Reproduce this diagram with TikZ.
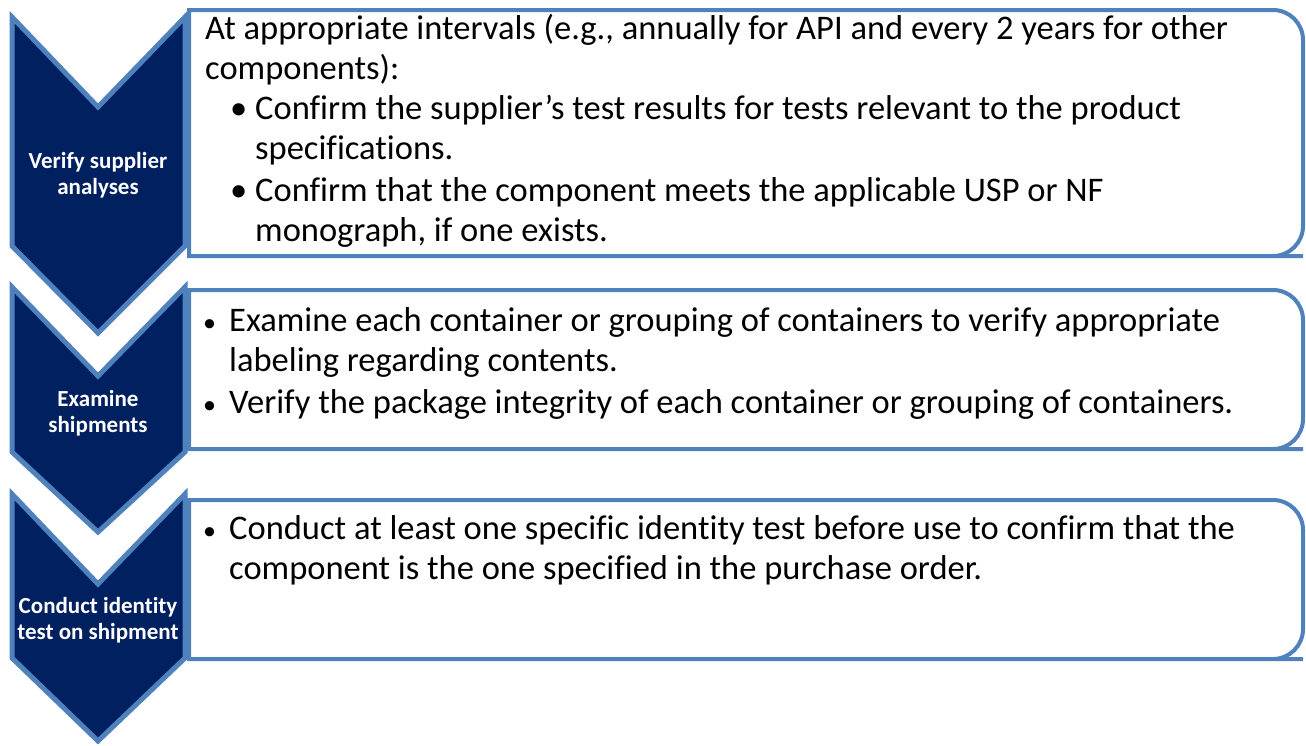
\documentclass[tikz,border=0pt]{standalone}
\usepackage{fontspec}
\setmainfont{Carlito}[Ligatures=NoCommon]
\definecolor{navy}{RGB}{0,32,96}
\definecolor{accent}{RGB}{79,129,189}
\begin{document}
\begin{tikzpicture}[x=1pt,y=-1pt,
  chev/.style={fill=navy, draw=accent, line width=5pt, line join=miter},
  box/.style={fill=white, draw=accent, line width=4pt},
  lab/.style={text=white, font=\bfseries\fontsize{23}{25.5}\selectfont, align=center, inner sep=0pt},
  body/.style={font=\fontsize{34.5}{40}\selectfont, anchor=base west, align=left, inner sep=0pt, text=black},
  bul/.style={font=\fontsize{34.5}{40}\selectfont, anchor=base west, inner sep=0pt, text=black},
  sbul/.style={font=\fontsize{26}{40}\selectfont, anchor=base west, inner sep=0pt, text=black}]
\useasboundingbox (0,0) rectangle (1306,745);

% boxes
\draw[box] (189,133) -- (189,10) -- (1273,10) [rounded corners=30pt] -- (1303,10) -- (1303,256) -- (1273,256) [sharp corners] -- (189,256) -- cycle;
\draw[box] (189,370) -- (189,290) -- (1273,290) [rounded corners=30pt] -- (1303,290) -- (1303,449) -- (1273,449) [sharp corners] -- (189,449) -- cycle;
\draw[box] (189,580) -- (189,500) -- (1273,500) [rounded corners=30pt] -- (1303,500) -- (1303,659) -- (1273,659) [sharp corners] -- (189,659) -- cycle;

% chevrons
\draw[chev] (12,17) -- (98,107) -- (185,17) -- (185,246) -- (98,333) -- (12,246) -- cycle;
\draw[chev] (12,287) -- (98,376) -- (185,287) -- (185,452) -- (98,532) -- (12,452) -- cycle;
\draw[chev] (12,494) -- (98,584) -- (185,494) -- (185,658) -- (98,741) -- (12,658) -- cycle;

% chevron labels
\node[lab] (l1) at (98,175) {Verify supplier\\analyses};
\node[lab] (l2) at (98,413) {Examine\\shipments};
\node[lab] (l3) at (98,620) {Conduct identity\\test on shipment};

% box 1 text (nodes placed at the baseline of their last line)
\node[body] (t1) at (205,79) {At appropriate intervals (e.g., annually for API and every 2 years for other\\components):};
\node[bul] (b1a) at (230,119) {\textbullet};
\node[body] (t1a) at (255,159) {Confirm the supplier’s test results for tests relevant to the product\\specifications.};
\node[bul] (b1b) at (230,201) {\textbullet};
\node[body] (t1b) at (255,241) {Confirm that the component meets the applicable USP or NF\\monograph, if one exists.};

% box 2 text
\node[sbul] (b2a) at (203,331) {\textbullet};
\node[body] (t2a) at (229,371) {Examine each container or grouping of containers to verify appropriate\\labeling regarding contents.};
\node[sbul] (b2b) at (203,413) {\textbullet};
\node[body] (t2b) at (229,413) {Verify the package integrity of each container or grouping of containers.};

% box 3 text
\node[sbul] (b3a) at (203,539) {\textbullet};
\node[body] (t3a) at (229,579) {Conduct at least one specific identity test before use to confirm that the\\component is the one specified in the purchase order.};
\end{tikzpicture}
\end{document}
